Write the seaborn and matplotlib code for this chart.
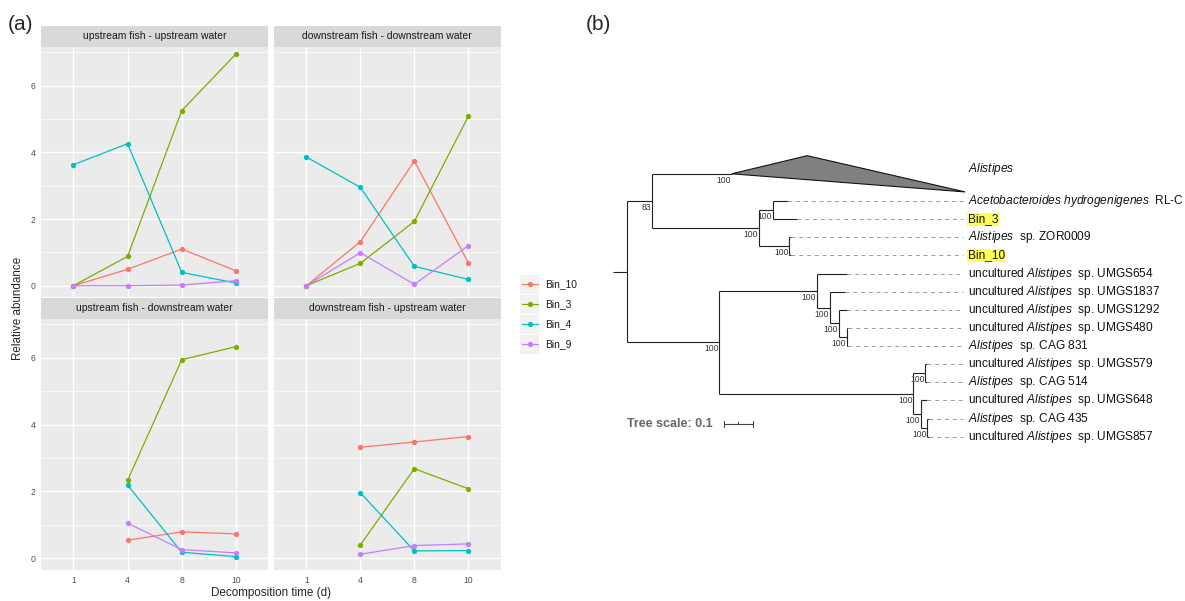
import numpy as np
import pandas as pd
import matplotlib
matplotlib.use("Agg")
import matplotlib.pyplot as plt
import seaborn as sns
from matplotlib.patches import Rectangle, Polygon

# ---------------- DATA: panel (a) ----------------
times = ["1", "4", "8", "10"]
bins = ["Bin_10", "Bin_3", "Bin_4", "Bin_9"]
bin_colors = ["#F8766D", "#7CAE00", "#00BFC4", "#C77CFF"]
facets = ["upstream fish - upstream water",
          "downstream fish - downstream water",
          "upstream fish - downstream water",
          "downstream fish - upstream water"]
nan = np.nan
uu_bin10 = [0.00, 0.49, 1.10, 0.45]
uu_bin3 = [0.00, 0.88, 5.25, 6.95]
uu_bin4 = [3.63, 4.26, 0.40, 0.08]
uu_bin9 = [0.00, 0.00, 0.02, 0.15]
dd_bin10 = [0.00, 1.32, 3.74, 0.69]
dd_bin3 = [0.00, 0.67, 1.93, 5.08]
dd_bin4 = [3.86, 2.95, 0.58, 0.19]
dd_bin9 = [0.00, 0.99, 0.04, 1.20]
ud_bin10 = [nan, 0.54, 0.79, 0.73]
ud_bin3 = [nan, 2.33, 5.94, 6.33]
ud_bin4 = [nan, 2.19, 0.18, 0.05]
ud_bin9 = [nan, 1.05, 0.26, 0.16]
du_bin10 = [nan, 3.32, 3.48, 3.64]
du_bin3 = [nan, 0.40, 2.68, 2.08]
du_bin4 = [nan, 1.96, 0.22, 0.23]
du_bin9 = [nan, 0.12, 0.38, 0.43]
facet_values = [
    [uu_bin10, uu_bin3, uu_bin4, uu_bin9],
    [dd_bin10, dd_bin3, dd_bin4, dd_bin9],
    [ud_bin10, ud_bin3, ud_bin4, ud_bin9],
    [du_bin10, du_bin3, du_bin4, du_bin9],
]
x_label = "Decomposition time (d)"
y_label = "Relative abundance"
y_ticks = [0, 2, 4, 6]

# ---------------- DATA: panel (b) tree ----------------
newick = ("((Alistipes:0.277,((Acetobacteroides:0.052,Bin_3:0.082)100:0.049,"
          "(ZOR0009:0.005,Bin_10:0.005)100:0.105)100:0.373)83:0.089,"
          "((UMGS654:0.102,(UMGS1837:0.053,(UMGS1292:0.028,(UMGS480:0.005,"
          "CAG831:0.005)100:0.028)100:0.031)100:0.043)100:0.341,"
          "((UMGS579:0.004,CAG514:0.004)100:0.042,(UMGS648:0.022,"
          "(CAG435:0.005,UMGS857:0.005)100:0.022)100:0.027)100:0.676)100:0.323);")
root_stub = 0.049
collapsed = {"Alistipes": {"support": "100", "near": 0.263, "far": 0.813, "rows": 2}}
leaf_labels = {
    "Alistipes": r"$\mathit{Alistipes}$",
    "Acetobacteroides": r"$\mathit{Acetobacteroides}$ $\mathit{hydrogenigenes}$  RL-C",
    "Bin_3": "Bin_3",
    "ZOR0009": r"$\mathit{Alistipes}$  sp. ZOR0009",
    "Bin_10": "Bin_10",
    "UMGS654": r"uncultured $\mathit{Alistipes}$  sp. UMGS654",
    "UMGS1837": r"uncultured $\mathit{Alistipes}$  sp. UMGS1837",
    "UMGS1292": r"uncultured $\mathit{Alistipes}$  sp. UMGS1292",
    "UMGS480": r"uncultured $\mathit{Alistipes}$  sp. UMGS480",
    "CAG831": r"$\mathit{Alistipes}$  sp. CAG 831",
    "UMGS579": r"uncultured $\mathit{Alistipes}$  sp. UMGS579",
    "CAG514": r"$\mathit{Alistipes}$  sp. CAG 514",
    "UMGS648": r"uncultured $\mathit{Alistipes}$  sp. UMGS648",
    "CAG435": r"$\mathit{Alistipes}$  sp. CAG 435",
    "UMGS857": r"uncultured $\mathit{Alistipes}$  sp. UMGS857",
}
highlighted = ["Bin_3", "Bin_10"]
tree_scale = 0.1

# ---------------- style ----------------
sns.set_theme(style="white")
plt.rcParams['font.family'] = ['Liberation Sans', 'DejaVu Sans']
plt.rcParams['mathtext.fontset'] = 'custom'
plt.rcParams['mathtext.rm'] = 'Liberation Sans'
plt.rcParams['mathtext.it'] = 'Liberation Sans:italic'
plt.rcParams['mathtext.bf'] = 'Liberation Sans:bold'

W, H = 1185, 601
fig = plt.figure(figsize=(W / 100, H / 100), dpi=100)


def px_rect(l, t, r, b):
    return [l / W, 1 - b / H, (r - l) / W, (b - t) / H]


# ---------------- panel (a) ----------------
rows = []
for f, vals in zip(facets, facet_values):
    for b, series in zip(bins, vals):
        for t, v in zip(times, series):
            rows.append({"facet": f, "time": t, "bin": b, "value": v})
df = pd.DataFrame(rows).dropna()

panels = [(41, 46.7, 268.3, 297.4), (274, 46.7, 500.7, 297.4),
          (41, 318.6, 268.3, 570), (274, 318.6, 500.7, 570)]
strip_h = 20.7
palette = dict(zip(bins, bin_colors))

for k, facet in enumerate(facets):
    l, t, r, b = panels[k]
    ax = fig.add_axes(px_rect(l, t, r, b))
    sub = df[df.facet == facet]
    sns.pointplot(data=sub, x="time", y="value", hue="bin", order=times,
                  hue_order=bins, palette=palette, errorbar=None, markers="o",
                  linestyles="-", markersize=3.8, markeredgewidth=0,
                  linewidth=0.9, legend=False, ax=ax)
    ax.set_facecolor("#EBEBEB")
    for s in ax.spines.values():
        s.set_visible(False)
    ax.set_xlim(-0.6, 3.6)
    ax.set_ylim(-0.351, 7.17)
    ax.set_yticks(y_ticks)
    ax.set_yticks([1, 3, 5, 7], minor=True)
    ax.set_axisbelow(True)
    ax.grid(which="major", color="white", linewidth=1.0)
    ax.grid(which="minor", axis="y", color="white", linewidth=0.5)
    ax.xaxis.grid(True, which="major", color="white", linewidth=1.0)
    ax.set_xlabel("")
    ax.set_ylabel("")
    ax.tick_params(which="minor", length=0)
    ax.tick_params(which="major", length=2.8, width=0.5, color="#333333",
                   labelsize=6.2, labelcolor="#4D4D4D", pad=1.2)
    if k % 2 == 1:
        ax.tick_params(axis="y", left=False, labelleft=False)
    if k < 2:
        ax.tick_params(axis="x", bottom=False, labelbottom=False)
    # strip
    sax = fig.add_axes(px_rect(l, t - strip_h, r, t))
    sax.set_facecolor("#D9D9D9")
    sax.set_xticks([])
    sax.set_yticks([])
    for s in sax.spines.values():
        s.set_visible(False)
    sax.text(0.5, 0.5, facet, ha="center", va="center", fontsize=7.5,
             color="#1A1A1A", transform=sax.transAxes)

# overlay in pixel coordinates for labels and legend
ov = fig.add_axes([0, 0, 1, 1])
ov.set_xlim(0, W)
ov.set_ylim(H, 0)
ov.axis("off")
ov.patch.set_alpha(0)

ov.text(8, 25, "(a)", fontsize=15, ha="left", va="center")
ov.text(586, 25, "(b)", fontsize=15, ha="left", va="center")
ov.text(271, 593, x_label, fontsize=8.4, ha="center", va="center")
ov.text(18, 308, y_label, fontsize=8.4, ha="center", va="center", rotation=90)

for i, (bname, col) in enumerate(zip(bins, bin_colors)):
    yc = 284.3 + 20 * i
    ov.add_patch(Rectangle((520, yc - 9.5), 19, 19, facecolor="#F2F2F2",
                           edgecolor="none"))
    ov.plot([521.5, 537.5], [yc, yc], color=col, lw=0.9)
    ov.plot([529.5], [yc], marker="o", color=col, markersize=3.8,
            markeredgewidth=0)
    ov.text(545.5, yc, bname, fontsize=7.4, ha="left", va="center",
            color="#1A1A1A")


# ---------------- panel (b): tree ----------------
def parse(s):
    pos = 0

    def node():
        nonlocal pos
        n = {"children": [], "name": "", "support": None, "length": 0.0}
        if s[pos] == "(":
            pos += 1
            while True:
                n["children"].append(node())
                if s[pos] == ",":
                    pos += 1
                    continue
                if s[pos] == ")":
                    pos += 1
                    break
        start = pos
        while pos < len(s) and s[pos] not in ":,);":
            pos += 1
        label = s[start:pos]
        if n["children"]:
            n["support"] = label or None
        else:
            n["name"] = label
        if pos < len(s) and s[pos] == ":":
            pos += 1
            start = pos
            while s[pos] not in ",);":
                pos += 1
            n["length"] = float(s[start:pos])
        return n

    return node()


tree = parse(newick)
cur = [0.0]


def layout(n, x0):
    n["x"] = x0 + n["length"]
    if n["children"]:
        for c in n["children"]:
            layout(c, n["x"])
        n["y"] = (n["children"][0]["y"] + n["children"][-1]["y"]) / 2
    else:
        h = collapsed.get(n["name"], {}).get("rows", 1)
        n["y"] = cur[0] + h / 2
        n["top"] = cur[0]
        n["bot"] = cur[0] + h
        cur[0] += h


tree["length"] = 0.0
layout(tree, 0.0)

axt = fig.add_axes(px_rect(580, 130, 1185, 470))
axt.set_xlim(-0.1627, 1.9453)
axt.set_ylim(17.337, -1.416)
axt.axis("off")

branch_kw = dict(color="#222222", lw=0.8, solid_capstyle="butt")
label_x = 1.188
dash_end = 1.173
px_x = 1 / 287.0


def draw(n):
    if n["children"]:
        axt.plot([n["x"], n["x"]], [n["children"][0]["y"], n["children"][-1]["y"]],
                 **branch_kw)
        for c in n["children"]:
            axt.plot([n["x"], c["x"]], [c["y"], c["y"]], **branch_kw)
            draw(c)
        if n["support"]:
            axt.text(n["x"] - px_x, n["y"] + 0.36, n["support"], fontsize=6.2,
                     ha="right", va="center", color="#333333")
    else:
        name = n["name"]
        if name in collapsed:
            info = collapsed[name]
            tri = Polygon([[n["x"], n["y"]], [n["x"] + info["near"], n["top"]],
                           [n["x"] + info["far"], n["bot"]]], closed=True,
                          facecolor="#808080", edgecolor="#111111", lw=0.8)
            axt.add_patch(tri)
            axt.text(n["x"] - px_x, n["y"] + 0.36, info["support"], fontsize=6.2,
                     ha="right", va="center", color="#333333")
            axt.text(label_x, n["y"] - 0.25, leaf_labels[name], fontsize=8.6,
                     ha="left", va="center", color="#111111")
        else:
            axt.plot([n["x"], dash_end], [n["y"], n["y"]], color="#9A9A9A",
                     lw=0.7, linestyle=(0, (4, 4)))
            kw = {}
            if name in highlighted:
                kw["bbox"] = dict(facecolor="#FFFF55", edgecolor="none", pad=0.4)
            axt.text(label_x, n["y"], leaf_labels[name], fontsize=8.6,
                     ha="left", va="center", color="#111111", **kw)


draw(tree)
axt.plot([-root_stub, 0], [tree["y"], tree["y"]], **branch_kw)

# tree scale
sy = 14.8
axt.text(0.001, sy, "Tree scale: 0.1", fontsize=9, fontweight="bold",
         color="#666666", ha="left", va="center")
sx0 = 0.339
axt.plot([sx0, sx0 + tree_scale], [sy, sy], color="#444444", lw=0.8)
for xx in (sx0, sx0 + tree_scale):
    axt.plot([xx, xx], [sy - 0.15, sy + 0.15], color="#444444", lw=0.8)
axt.plot([sx0 + tree_scale / 2] * 2, [sy, sy - 0.1], color="#444444", lw=0.8)

fig.savefig("out.png", dpi=100)
